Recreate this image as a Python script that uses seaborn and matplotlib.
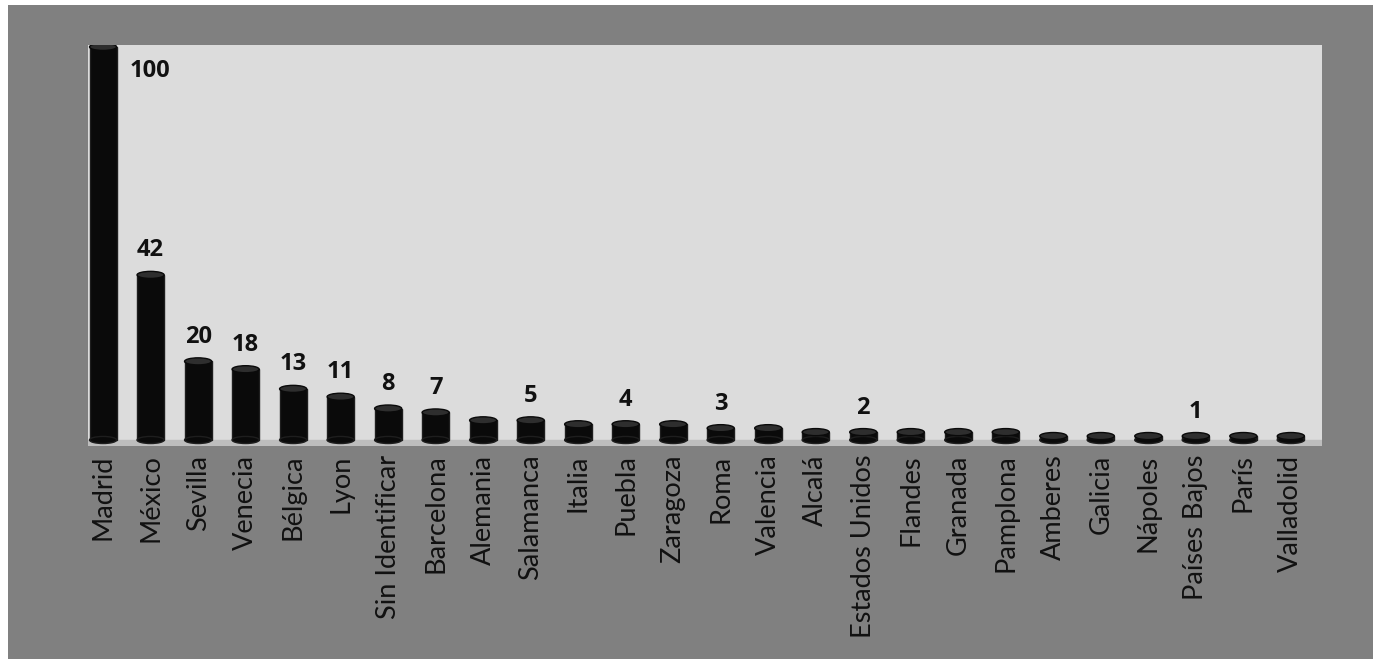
import numpy as np
import pandas as pd
import matplotlib
matplotlib.use("Agg")
import matplotlib.pyplot as plt
import seaborn as sns
from matplotlib.patches import Ellipse, Rectangle

# datos
lugares = ['Madrid', 'México', 'Sevilla', 'Venecia', 'Bélgica', 'Lyon',
           'Sin Identificar', 'Barcelona', 'Alemania', 'Salamanca', 'Italia',
           'Puebla', 'Zaragoza', 'Roma', 'Valencia', 'Alcalá', 'Estados Unidos',
           'Flandes', 'Granada', 'Pamplona', 'Amberes', 'Galicia', 'Nápoles',
           'Países Bajos', 'París', 'Valladolid']
valores = [100, 42, 20, 18, 13, 11, 8, 7, 5, 5, 4, 4, 4, 3, 3,
           2, 2, 2, 2, 2, 1, 1, 1, 1, 1, 1]
# barras con etiqueta de valor
etiquetados = ['Madrid', 'México', 'Sevilla', 'Venecia', 'Bélgica', 'Lyon',
               'Sin Identificar', 'Barcelona', 'Salamanca', 'Puebla', 'Roma',
               'Estados Unidos', 'Países Bajos']

df = pd.DataFrame({'lugar': lugares, 'n': valores})

sns.set_style('white')
plt.rcParams['font.family'] = ['Lato', 'DejaVu Sans']

fig = plt.figure(figsize=(13.73, 6.59), dpi=100, facecolor='#808080')
# borde blanco arriba e izquierda
fig.patches.append(Rectangle((0, 1 - 5 / 659), 1, 5 / 659, transform=fig.transFigure,
                             fc='white', ec='none'))
fig.patches.append(Rectangle((0, 0), 8 / 1373, 1, transform=fig.transFigure,
                             fc='white', ec='none'))

ax = fig.add_axes([0.064, 0.3228, 0.899, 0.609])
ax.set_facecolor('#dcdcdc')
ax.axhspan(-1.6, 0, color='#bdbdbd', zorder=0)

sns.barplot(data=df, x='lugar', y='n', color='#0a0a0a', saturation=1, width=0.57,
            edgecolor='#1e1e1e', linewidth=1, ax=ax, zorder=2)

# tapas de cilindro
cap = 1.8
for p in ax.containers[0]:
    x0, w, h = p.get_x(), p.get_width(), p.get_height()
    ax.add_patch(Ellipse((x0 + w / 2, 0), w, cap, fc='#0a0a0a', ec='#1e1e1e', lw=1, zorder=2))
    ax.add_patch(Ellipse((x0 + w / 2, h), w, cap, fc='#2e2e2e', ec='#0a0a0a', lw=1, zorder=3))

for i, (lug, v) in enumerate(zip(lugares, valores)):
    if lug not in etiquetados:
        continue
    if v == max(valores):
        ax.annotate(str(v), (i + 0.29, v), xytext=(9, -9), textcoords='offset points',
                    ha='left', va='top', fontsize=17, fontweight='bold',
                    family=['Open Sans', 'DejaVu Sans'], color='#111111')
    else:
        ax.annotate(str(v), (i, v), xytext=(0, 9), textcoords='offset points',
                    ha='center', va='bottom', fontsize=17, fontweight='bold',
                    family=['Open Sans', 'DejaVu Sans'], color='#111111')

ax.set_xlim(-0.32, 25.66)
ax.set_ylim(-1.6, 100.5)
ax.set_xlabel('')
ax.set_ylabel('')
ax.set_yticks([])
ax.tick_params(axis='x', rotation=90, length=0, pad=6, labelsize=19.5, labelcolor='#111111')
for s in ax.spines.values():
    s.set_visible(False)

plt.savefig('out.png', dpi=100, facecolor=fig.get_facecolor())
